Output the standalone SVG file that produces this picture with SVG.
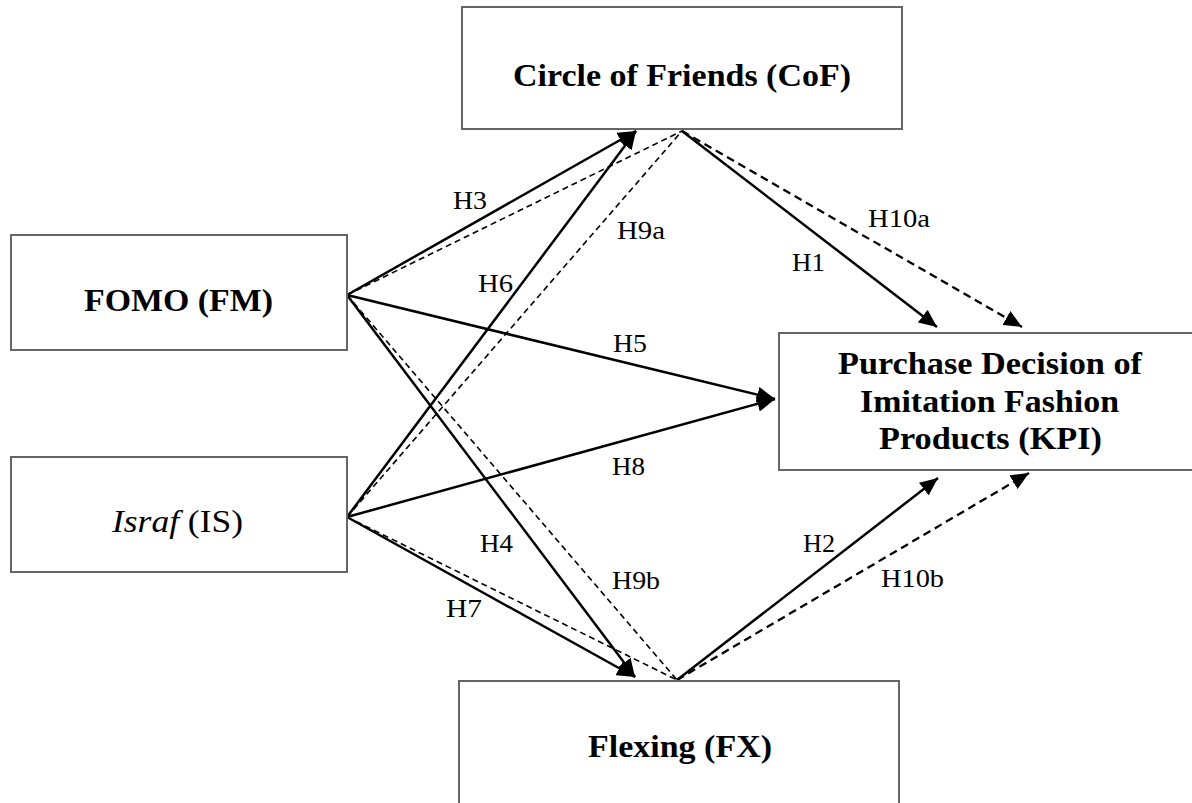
<svg xmlns="http://www.w3.org/2000/svg" width="1192" height="803" viewBox="0 0 1192 803">
<style>
.box{fill:#fff;stroke:#666;stroke-width:2}
.bt{font-family:"Liberation Serif","Times New Roman",serif;font-size:32px;font-weight:bold;fill:#000}
.nt{font-family:"Liberation Serif","Times New Roman",serif;font-size:32px;fill:#000}
.lb{font-family:"Liberation Serif","Times New Roman",serif;font-size:26px;fill:#000}
.s{stroke:#000;stroke-width:2.5;fill:none}
.d1{stroke:#000;stroke-width:1.6;fill:none;stroke-dasharray:6 4}
.d2{stroke:#000;stroke-width:2.3;fill:none;stroke-dasharray:8 5}
</style>
<defs>
<marker id="ah" markerUnits="userSpaceOnUse" markerWidth="20" markerHeight="16" refX="18" refY="8" orient="auto">
<path d="M0,0 L18,8 L0,16 Z" fill="#000"/>
</marker>
</defs>
<rect width="1192" height="803" fill="#fff"/>
<g id="connectors">
<line class="d1" x1="347" y1="295" x2="682" y2="131"/>
<line class="d1" x1="347" y1="517" x2="682" y2="131"/>
<line class="d1" x1="347" y1="295" x2="677" y2="680"/>
<line class="d1" x1="347" y1="517" x2="677" y2="680"/>
<line class="d2" x1="682" y1="131" x2="1022" y2="327" marker-end="url(#ah)"/>
<line class="d2" x1="677" y1="680" x2="1029" y2="473" marker-end="url(#ah)"/>
<line class="s" x1="347" y1="295" x2="636" y2="131" marker-end="url(#ah)"/>
<line class="s" x1="347" y1="517" x2="636" y2="131" marker-end="url(#ah)"/>
<line class="s" x1="347" y1="295" x2="775" y2="399" marker-end="url(#ah)"/>
<line class="s" x1="347" y1="517" x2="775" y2="399" marker-end="url(#ah)"/>
<line class="s" x1="347" y1="295" x2="635" y2="677" marker-end="url(#ah)"/>
<line class="s" x1="347" y1="517" x2="635" y2="677" marker-end="url(#ah)"/>
<line class="s" x1="682" y1="131" x2="937" y2="327" marker-end="url(#ah)"/>
<line class="s" x1="677" y1="680" x2="938" y2="478" marker-end="url(#ah)"/>
</g>
<g id="labels">
<text class="lb" x="453" y="209" textLength="34" lengthAdjust="spacingAndGlyphs">H3</text>
<text class="lb" x="617" y="239" textLength="48" lengthAdjust="spacingAndGlyphs">H9a</text>
<text class="lb" x="478" y="292" textLength="35" lengthAdjust="spacingAndGlyphs">H6</text>
<text class="lb" x="613" y="352" textLength="34" lengthAdjust="spacingAndGlyphs">H5</text>
<text class="lb" x="612" y="475" textLength="33" lengthAdjust="spacingAndGlyphs">H8</text>
<text class="lb" x="480" y="552" textLength="33" lengthAdjust="spacingAndGlyphs">H4</text>
<text class="lb" x="612" y="589" textLength="48" lengthAdjust="spacingAndGlyphs">H9b</text>
<text class="lb" x="446" y="617" textLength="36" lengthAdjust="spacingAndGlyphs">H7</text>
<text class="lb" x="868" y="227" textLength="62" lengthAdjust="spacingAndGlyphs">H10a</text>
<text class="lb" x="792" y="271" textLength="33" lengthAdjust="spacingAndGlyphs">H1</text>
<text class="lb" x="803" y="552" textLength="32" lengthAdjust="spacingAndGlyphs">H2</text>
<text class="lb" x="881" y="587" textLength="63" lengthAdjust="spacingAndGlyphs">H10b</text>
</g>
<g id="node-cof">
<rect class="box" x="462" y="7" width="440" height="122"/>
<text class="bt" x="513" y="86" textLength="338" lengthAdjust="spacingAndGlyphs">Circle of Friends (CoF)</text>
</g>
<g id="node-fm">
<rect class="box" x="11" y="235" width="336" height="115"/>
<text class="bt" x="84" y="311" textLength="189" lengthAdjust="spacingAndGlyphs">FOMO (FM)</text>
</g>
<g id="node-is">
<rect class="box" x="11" y="457" width="336" height="115"/>
<text class="nt" x="112" y="532" textLength="131" lengthAdjust="spacingAndGlyphs"><tspan font-style="italic">Israf</tspan> (IS)</text>
</g>
<g id="node-kpi">
<rect class="box" x="779" y="333" width="430" height="137"/>
<text class="bt" x="838" y="374" textLength="304" lengthAdjust="spacingAndGlyphs">Purchase Decision of</text>
<text class="bt" x="860" y="412" textLength="259" lengthAdjust="spacingAndGlyphs">Imitation Fashion</text>
<text class="bt" x="879" y="449" textLength="223" lengthAdjust="spacingAndGlyphs">Products (KPI)</text>
</g>
<g id="node-fx">
<rect class="box" x="459" y="681" width="440" height="140"/>
<text class="bt" x="588" y="757" textLength="184" lengthAdjust="spacingAndGlyphs">Flexing (FX)</text>
</g>
</svg>
